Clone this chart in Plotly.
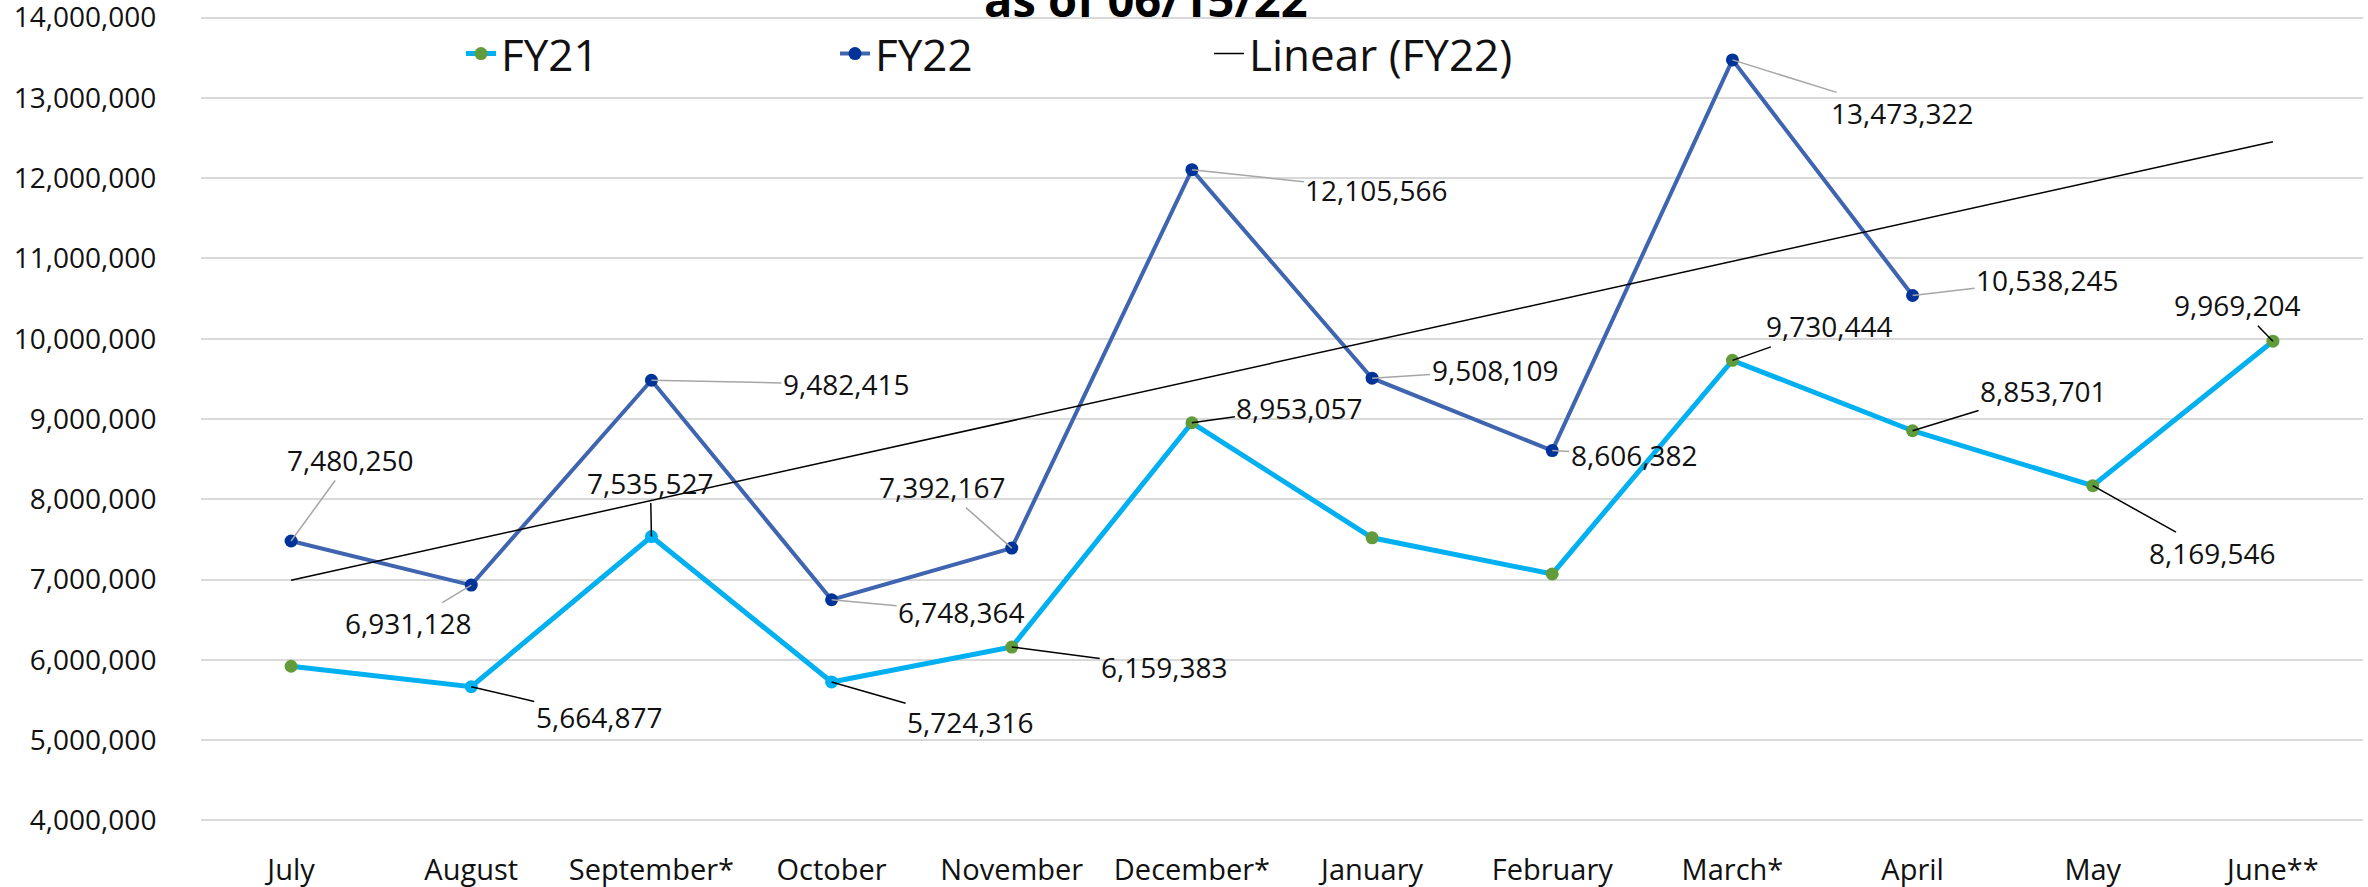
import numpy as np
import plotly.graph_objects as go

# ---------------- data ----------------
months = ["July", "August", "September*", "October", "November", "December*",
          "January", "February", "March*", "April", "May", "June**"]
fy21 = [5920000, 5664877, 7535527, 5724316, 6159383, 8953057,
        7520000, 7070000, 9730444, 8853701, 8169546, 9969204]
fy22 = [7480250, 6931128, 9482415, 6748364, 7392167, 12105566,
        9508109, 8606382, 13473322, 10538245, None, None]
title_text = "as of 06/15/22"
series_names = ["FY21", "FY22", "Linear (FY22)"]
y_ticks = [4000000, 5000000, 6000000, 7000000, 8000000, 9000000,
           10000000, 11000000, 12000000, 13000000, 14000000]

# ---------------- styles ----------------
FONT = "Open Sans, Noto Sans, sans-serif"
TXT = "#111111"
C21_LINE = "#00B0F0"
C21_GREEN = "#629B3C"
C22_LINE = "#3F64B0"
C22_MARK = "#003399"
GRID = "#D9D9D9"

fy21_marker_colors = [C21_GREEN, C21_LINE, C21_LINE, C21_LINE] + [C21_GREEN] * 8

# linear trend of FY22 (least squares over available months, projected)
idx22 = [i for i, v in enumerate(fy22) if v is not None]
coef = np.polyfit(idx22, [fy22[i] for i in idx22], 1)
trend = np.polyval(coef, np.arange(len(months)))

fig = go.Figure()
fig.add_trace(go.Scatter(
    x=months, y=fy21, name=series_names[0], mode="lines+markers",
    line=dict(color=C21_LINE, width=5),
    marker=dict(color=fy21_marker_colors, size=13),
))
fig.add_trace(go.Scatter(
    x=months, y=fy22, name=series_names[1], mode="lines+markers",
    line=dict(color=C22_LINE, width=4),
    marker=dict(color=C22_MARK, size=13),
))
fig.add_trace(go.Scatter(
    x=months, y=trend, name=series_names[2], mode="lines",
    line=dict(color="#000000", width=1.5),
))

# data-label offsets (pixels from the point) -- style/position info
off21 = {1: (128, 30), 2: (-1, -54), 3: (139, 40), 4: (153, 20), 5: (108, -15),
         8: (97, -34), 9: (131, -40), 10: (120, 67), 11: (-35, -36)}
off22 = {0: (59, -81), 1: (-63, 38), 2: (195, 4), 3: (130, 12), 4: (-69, -61),
         5: (185, 20), 6: (123, -8), 7: (82, 4), 8: (170, 53), 9: (135, -16)}

annotations = []
for series, offs, acol in ((fy21, off21, "#000000"), (fy22, off22, "#A6A6A6")):
    for i, (dx, dy) in offs.items():
        annotations.append(dict(
            x=months[i], y=series[i], text=f"{series[i]:,}",
            showarrow=True, arrowhead=0, arrowwidth=1.5, arrowcolor=acol,
            ax=dx, ay=dy, standoff=0,
            font=dict(family=FONT, size=28, color=TXT),
        ))

annotations.append(dict(
    x=(1146 - 201) / 2162, y=0.979, xref="paper", yref="paper",
    xanchor="center", yanchor="bottom", showarrow=False,
    text=f"<b>{title_text}</b>",
    font=dict(family=FONT, size=47, color="#000000"),
))

fig.update_layout(
    width=2368, height=887,
    margin=dict(l=201, r=5, t=16, b=65, autoexpand=False),
    paper_bgcolor="white", plot_bgcolor="white",
    font=dict(family=FONT, size=28, color=TXT),
    showlegend=True,
    legend=dict(
        orientation="h", xref="container", yref="container",
        x=461 / 2368, y=1 - 54 / 887, xanchor="left", yanchor="middle",
        font=dict(family=FONT, size=44, color=TXT),
        entrywidth=329, entrywidthmode="pixels",
        bgcolor="rgba(0,0,0,0)",
    ),
    annotations=annotations,
)
fig.update_xaxes(
    type="category", range=[-0.5, len(months) - 0.5],
    showgrid=False, zeroline=False, showline=False,
    ticks="outside", ticklen=22, tickcolor="rgba(0,0,0,0)",
    tickfont=dict(family=FONT, size=29, color=TXT),
    ticklabeloverflow="allow",
)
fig.update_yaxes(
    range=[3980000, 14020000], tickmode="array", tickvals=y_ticks, tickformat=",",
    showgrid=True, gridcolor=GRID, gridwidth=2, zeroline=False, showline=False,
    ticks="outside", ticklen=38, tickcolor="rgba(0,0,0,0)",
    tickfont=dict(family=FONT, size=28, color=TXT),
    ticklabeloverflow="allow",
)

fig.write_html(
    "out.html",
    config={"displayModeBar": False},
    post_script="document.body.style.margin='0';document.body.style.overflow='hidden';",
)
